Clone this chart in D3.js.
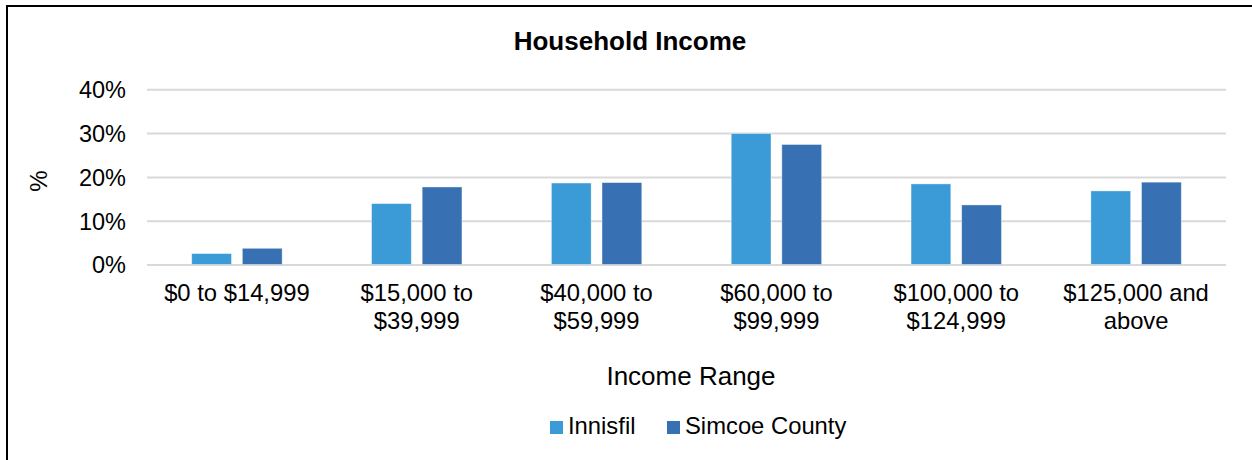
<!DOCTYPE html>
<html>
<head>
<meta charset="utf-8">
<script src="https://cdn.jsdelivr.net/npm/d3@7"></script>
<style>
  html, body { margin: 0; padding: 0; background: #fff; }
  svg { display: block; font-family: "Liberation Sans", Arial, sans-serif; }
</style>
</head>
<body>
<svg id="chart" width="1252" height="460"></svg>
<script>
// Household income distribution, share of households per income range
const categories = [
  ["$0 to $14,999"],
  ["$15,000 to", "$39,999"],
  ["$40,000 to", "$59,999"],
  ["$60,000 to", "$99,999"],
  ["$100,000 to", "$124,999"],
  ["$125,000 and", "above"]
];
const seriesNames = ["Innisfil", "Simcoe County"];
const innisfil = [2.5, 13.9, 18.6, 29.9, 18.4, 16.8];
const simcoe   = [3.7, 17.7, 18.7, 27.4, 13.6, 18.8];
const yTicks = [0, 10, 20, 30, 40];
const colors = ["#3A9BD6", "#3770B3"];

const seriesValues = [innisfil, simcoe];
const catKeys = categories.map(c => c.join(" "));

const svg = d3.select("#chart");

// frame (top and left edges)
svg.append("path")
  .attr("d", "M7,460 V6 H1252")
  .attr("fill", "none")
  .attr("stroke", "#000")
  .attr("stroke-width", 2);

const plot = { left: 147, right: 1226, top: 89.3, bottom: 264.5 };

const x0 = d3.scaleBand().domain(catKeys).range([plot.left, plot.right]).padding(0);
const groupInset = x0.bandwidth() * 0.2486;
const x1 = d3.scaleBand().domain(seriesNames)
  .range([groupInset, x0.bandwidth() - groupInset])
  .paddingInner(0.2144);
const y = d3.scaleLinear().domain([0, 40]).range([plot.bottom, plot.top]);

// title
svg.append("text")
  .attr("x", 630).attr("y", 50)
  .attr("text-anchor", "middle")
  .attr("font-size", 26).attr("font-weight", "bold")
  .attr("fill", "#000")
  .text("Household Income");

// horizontal gridlines
const yAxis = d3.axisLeft(y).tickValues(yTicks).tickFormat(d => d + "%")
  .tickSize(-(plot.right - plot.left)).tickPadding(21);
const gy = svg.append("g").attr("transform", `translate(${plot.left},0)`).call(yAxis);
gy.select(".domain").remove();
gy.selectAll(".tick line").attr("stroke", "#D9D9D9").attr("stroke-width", 2);
gy.selectAll(".tick text")
  .attr("font-size", 23.5).attr("fill", "#000")
  .attr("font-family", "'Liberation Sans', Arial, sans-serif")
  .attr("dy", "0.36em");

// y-axis title
svg.append("text")
  .attr("transform", "translate(47,181) rotate(-90)")
  .attr("text-anchor", "middle")
  .attr("font-size", 24).attr("fill", "#000")
  .text("%");

// bars
const groups = svg.append("g").selectAll("g")
  .data(catKeys)
  .join("g")
  .attr("transform", d => `translate(${x0(d)},0)`);

groups.selectAll("rect")
  .data((d, i) => seriesNames.map((s, j) => ({ s, v: seriesValues[j][i], j })))
  .join("rect")
  .attr("x", d => x1(d.s))
  .attr("y", d => y(d.v))
  .attr("width", x1.bandwidth())
  .attr("height", d => y(0) - y(d.v))
  .attr("fill", d => colors[d.j])
  .attr("stroke", "#ffffff")
  .attr("stroke-opacity", 0.5)
  .attr("stroke-width", 0.8);

// category labels
const xl = svg.append("g").selectAll("text")
  .data(categories)
  .join("text")
  .attr("x", (d, i) => x0(catKeys[i]) + x0.bandwidth() / 2)
  .attr("y", 301)
  .attr("text-anchor", "middle")
  .attr("font-size", 23.8).attr("fill", "#000");
xl.selectAll("tspan")
  .data(d => d)
  .join("tspan")
  .attr("x", function() { return this.parentNode.getAttribute("x"); })
  .attr("dy", (d, i) => i === 0 ? 0 : 28)
  .text(d => d);

// x-axis title
svg.append("text")
  .attr("x", 691).attr("y", 385)
  .attr("text-anchor", "middle")
  .attr("font-size", 26).attr("fill", "#000")
  .text("Income Range");

// legend
const legendX = [550, 667];
const legend = svg.append("g").selectAll("g")
  .data(seriesNames)
  .join("g")
  .attr("transform", (d, i) => `translate(${legendX[i]},421)`);
legend.append("rect")
  .attr("width", 13).attr("height", 13)
  .attr("fill", (d, i) => colors[i]);
legend.append("text")
  .attr("x", 18).attr("y", 13)
  .attr("font-size", 23.8).attr("fill", "#000")
  .text(d => d);
</script>
</body>
</html>
